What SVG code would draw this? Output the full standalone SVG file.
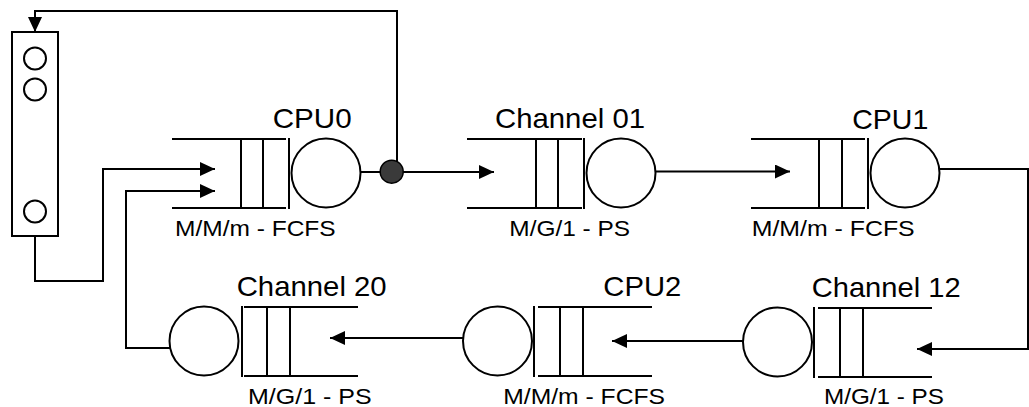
<svg xmlns="http://www.w3.org/2000/svg" width="1029" height="407" viewBox="0 0 1029 407">
<style>
.s{fill:none;stroke:#000;stroke-width:2}
.c{fill:#fff;stroke:#000;stroke-width:2}
.t{font-family:"Liberation Sans",Arial,sans-serif;font-size:28px;fill:#000}
.l{font-family:"Liberation Sans",Arial,sans-serif;font-size:22.5px;fill:#000}
</style>
<defs>
<marker id="ah" markerUnits="userSpaceOnUse" markerWidth="15" markerHeight="14" refX="15" refY="7" orient="auto">
<path d="M0,0 L15,7 L0,14 z" fill="#000"/>
</marker>
</defs>
<rect x="0" y="0" width="1029" height="407" fill="#fff"/>

<g id="connectors">
<path class="s" d="M397 171 V11 H35 V32" marker-end="url(#ah)"/>
<path class="s" d="M360.5 172 H494" marker-end="url(#ah)"/>
<path class="s" d="M655.5 171.5 H790" marker-end="url(#ah)"/>
<path class="s" d="M939.5 169 H1028 V349 H917" marker-end="url(#ah)"/>
<path class="s" d="M743 341 H612" marker-end="url(#ah)"/>
<path class="s" d="M463 338 H330" marker-end="url(#ah)"/>
<path class="s" d="M170 348 H126 V191 H215" marker-end="url(#ah)"/>
<path class="s" d="M35 236 V281 H103 V169 H215" marker-end="url(#ah)"/>
<circle cx="391.7" cy="171.7" r="11.5" fill="#3a3a3a" stroke="#000" stroke-width="1.5"/>
</g>

<g id="terminals">
<rect class="s" x="12" y="32" width="46" height="204"/>
<circle class="c" cx="35" cy="58.5" r="11"/>
<circle class="c" cx="35" cy="89.5" r="11"/>
<circle class="c" cx="35" cy="211.5" r="11"/>
</g>

<g id="cpu0">
<path class="s" d="M172 139 H286 M172 208 H286 M241 139 V208 M263 139 V208 M289 138 V209"/>
<circle class="c" cx="326" cy="173" r="34.5"/>
<text class="t" x="272.7" y="128.3" textLength="79" lengthAdjust="spacingAndGlyphs">CPU0</text>
<text class="l" x="175" y="236" textLength="160.7" lengthAdjust="spacingAndGlyphs">M/M/m - FCFS</text>
</g>

<g id="channel01">
<path class="s" d="M467 139 H582 M467 208 H582 M536 139 V208 M558 139 V208 M584 138 V209"/>
<circle class="c" cx="621" cy="173" r="34.5"/>
<text class="t" x="495" y="128.3" textLength="150" lengthAdjust="spacingAndGlyphs">Channel 01</text>
<text class="l" x="509.3" y="236" textLength="120.7" lengthAdjust="spacingAndGlyphs">M/G/1 - PS</text>
</g>

<g id="cpu1">
<path class="s" d="M751 139 H865 M751 208 H865 M819 139 V208 M842 139 V208 M868 138 V209"/>
<circle class="c" cx="905" cy="173" r="34.5"/>
<text class="t" x="852.3" y="129" textLength="76" lengthAdjust="spacingAndGlyphs">CPU1</text>
<text class="l" x="751.7" y="236" textLength="163" lengthAdjust="spacingAndGlyphs">M/M/m - FCFS</text>
</g>

<g id="channel12">
<path class="s" d="M818 308 H932 M818 377 H932 M840 308 V377 M863 308 V377 M814 307 V378"/>
<circle class="c" cx="777.5" cy="342" r="34.5"/>
<text class="t" x="811.7" y="297" textLength="149" lengthAdjust="spacingAndGlyphs">Channel 12</text>
<text class="l" x="824" y="403.5" textLength="120" lengthAdjust="spacingAndGlyphs">M/G/1 - PS</text>
</g>

<g id="cpu2">
<path class="s" d="M538 307 H652 M538 376 H652 M560 307 V376 M583 307 V376 M534 306 V377"/>
<circle class="c" cx="497.5" cy="341" r="34.5"/>
<text class="t" x="603.3" y="296" textLength="78" lengthAdjust="spacingAndGlyphs">CPU2</text>
<text class="l" x="503.3" y="404" textLength="161.7" lengthAdjust="spacingAndGlyphs">M/M/m - FCFS</text>
</g>

<g id="channel20">
<path class="s" d="M244 307 H358 M244 376 H358 M267 307 V376 M290 307 V376 M242 306 V377"/>
<circle class="c" cx="204" cy="341" r="34.5"/>
<text class="t" x="236.7" y="296" textLength="150" lengthAdjust="spacingAndGlyphs">Channel 20</text>
<text class="l" x="248" y="404" textLength="123.7" lengthAdjust="spacingAndGlyphs">M/G/1 - PS</text>
</g>
</svg>
